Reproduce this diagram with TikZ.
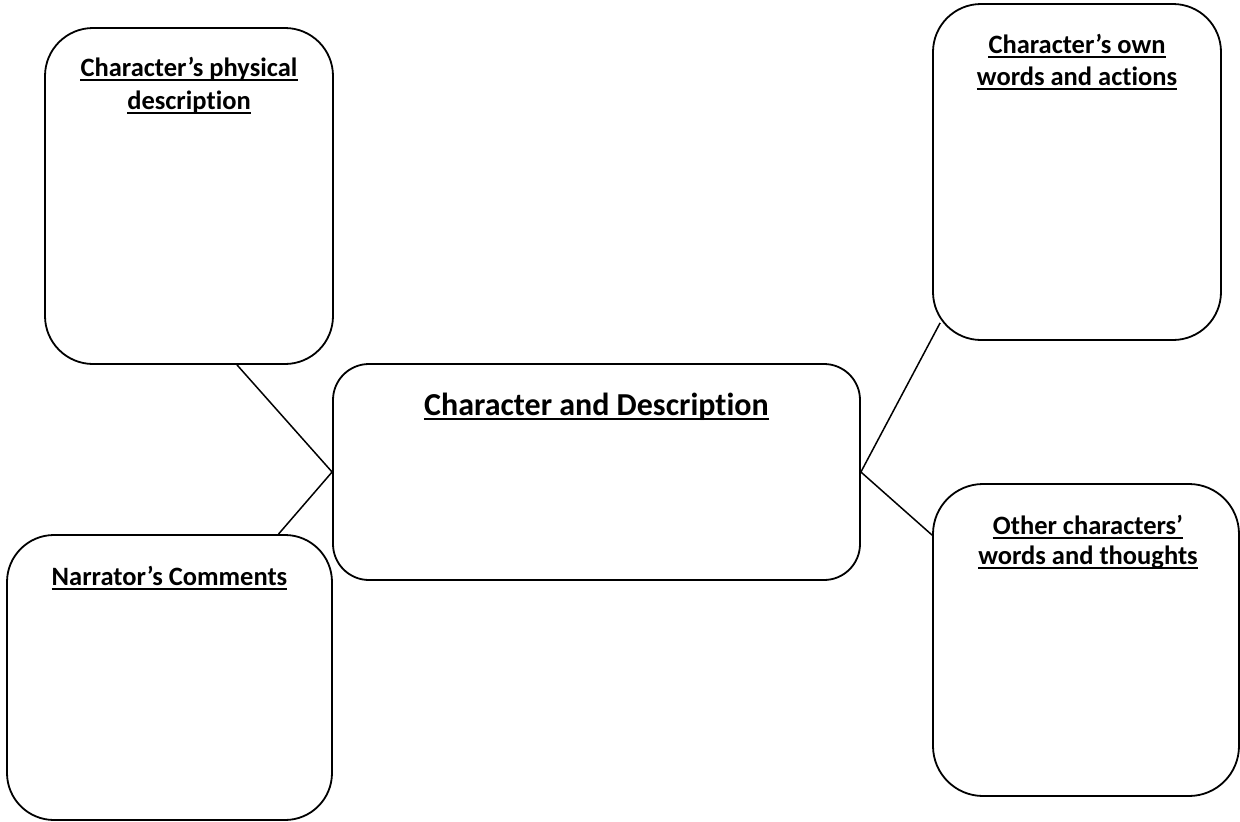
\documentclass[tikz,border=0pt]{standalone}
\usepackage{fontspec}
\setmainfont{Carlito}[Ligatures={NoCommon}]
\usetikzlibrary{calc}
\begin{document}
\begin{tikzpicture}[x=1pt,y=-1pt,
  box/.style={draw=black,line width=1.8pt,rounded corners=#1,inner sep=0pt,fill=white},
  box/.default=48pt,
  ttl/.style={inner sep=0pt,anchor=base,font=\fontsize{26.5}{32}\selectfont\bfseries},
  bigttl/.style={inner sep=0pt,anchor=base,font=\fontsize{32}{38}\selectfont\bfseries},
  ul/.style={line width=2pt},
  bigul/.style={line width=2.6pt},
  link/.style={line width=1.5pt}]
\useasboundingbox (0,0) rectangle (1240,822);
% boxes
\node[box, minimum width=288pt, minimum height=336pt] (phys) at (189,196) {};
\node[box, minimum width=288pt, minimum height=336pt] (own) at (1077,172) {};
\node[box=36pt, minimum width=527pt, minimum height=216pt] (main) at (596.5,472) {};
\node[box=47pt, minimum width=325pt, minimum height=285pt] (narr) at (169.5,677.5) {};
\node[box=50pt, minimum width=306pt, minimum height=312pt] (other) at (1086,640) {};
% connectors
\draw[link] ([xshift=48pt]phys.south) -- (main.west);
\draw[link] ([xshift=109pt]narr.north) -- (main.west);
\draw[link] ([xshift=8pt,yshift=18pt]own.south west) -- (main.east);
\draw[link] ([yshift=-52pt]other.north west) -- (main.east);
% titles
\node[ttl] (physa) at (189,76) {Character’s physical};
\node[ttl] (physb) at (189,109) {description};
\node[ttl] (owna) at (1077,53) {Character’s own};
\node[ttl] (ownb) at (1077,85) {words and actions};
\node[bigttl] (maint) at (596.5,415) {Character and Description};
\node[ttl] (narrt) at (169.5,585) {Narrator’s Comments};
\node[ttl] (othera) at (1088,534) {Other characters’};
\node[ttl] (otherb) at (1088,564) {words and thoughts};
% underlines
\foreach \n in {physa,physb,owna,ownb,narrt,othera,otherb}
  \draw[ul] ([yshift=-3.5pt]\n.base west) -- ([yshift=-3.5pt]\n.base east);
\draw[bigul] ([yshift=-4pt]maint.base west) -- ([yshift=-4pt]maint.base east);
\end{tikzpicture}
\end{document}
